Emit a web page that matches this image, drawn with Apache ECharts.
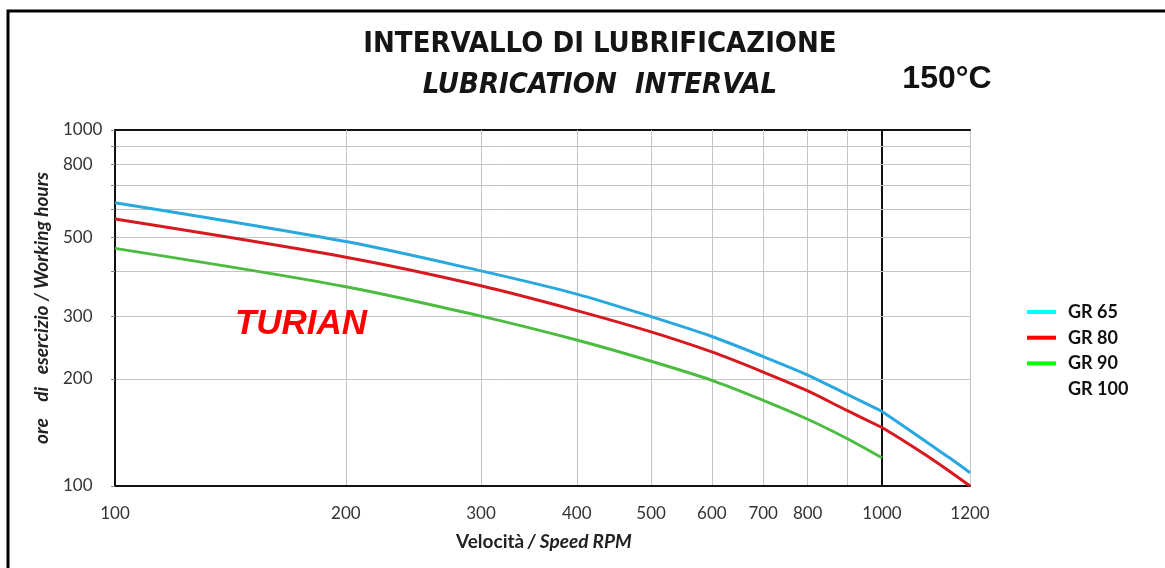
<!DOCTYPE html>
<html>
<head>
<meta charset="utf-8">
<script src="https://cdn.jsdelivr.net/npm/echarts@6/dist/echarts.min.js"></script>
<style>
  html, body { margin: 0; padding: 0; background: #fff; }
  #chart { width: 1165px; height: 568px; }
</style>
</head>
<body>
<div id="chart"></div>
<script>
// speed (RPM) and working hours
const speeds = [100, 200, 300, 400, 500, 600, 700, 800, 900, 1000, 1050, 1100, 1150, 1200];
const gr65 = [625, 486, 402, 346, 299, 263, 231, 205, 181, 162, 146, 132, 120, 109];
const gr80 = [562, 439, 365, 311, 271, 238, 209, 185, 163, 146, 133, 121, 110, 100];
const gr90 = [465, 363, 300, 257, 224, 198, 174, 154, 136, 120];

const gridTicksX = [100, 200, 300, 400, 500, 600, 700, 800, 900, 1000];
const labelTicksX = [100, 200, 300, 400, 500, 600, 700, 800, 1000];
const gridTicksY = [100, 200, 300, 400, 500, 600, 700, 800, 900, 1000];
const labelTicksY = [100, 200, 300, 500, 800, 1000];

const seriesNames = ['GR 65', 'GR 80', 'GR 90', 'GR 100'];
const lineColors = ['#29a8df', '#d7191f', '#4cbc40'];
const legendColors = ['#00ffff', '#ff0000', '#00ff00', 'rgba(0,0,0,0)'];

const FONT = 'Lato, "Open Sans", sans-serif';
const TITLE_FONT = '"DejaVu Sans Condensed", "DejaVu Sans", sans-serif';
const gridColor = '#c4c4c4';
const axisColor = '#111';

const pairs = (vals, from, to) =>
  speeds
    .map((s, i) => [s, vals[i]])
    .filter((p) => p[1] != null && p[0] >= from && p[0] <= to);

const chart = echarts.init(document.getElementById('chart'), null, { renderer: 'canvas' });

const series = [];
[gr65, gr80, gr90].forEach((vals, i) => {
  const base = {
    name: seriesNames[i],
    type: 'line',
    smooth: 0.3,
    showSymbol: false,
    lineStyle: { color: lineColors[i], width: 3 },
    itemStyle: { color: lineColors[i] },
    z: 3,
  };
  series.push({ ...base, xAxisIndex: 0, yAxisIndex: 0, data: pairs(vals, 100, 1000) });
  const tail = pairs(vals, 1000, 1200);
  if (tail.length > 1) {
    series.push({ ...base, xAxisIndex: 1, yAxisIndex: 1, data: tail });
  }
});
series.push({ name: 'GR 100', type: 'line', xAxisIndex: 0, yAxisIndex: 0, data: [] });

const fmt = (v) => String(Math.round(v));

chart.setOption({
  animation: false,
  backgroundColor: '#fff',
  title: [
    {
      text: 'INTERVALLO DI LUBRIFICAZIONE',
      left: 595, top: 25, textAlign: 'center',
      textStyle: { fontFamily: TITLE_FONT, fontSize: 29, fontWeight: 'bold', color: '#151515' },
    },
    {
      text: 'LUBRICATION  INTERVAL',
      left: 595, top: 66, textAlign: 'center',
      textStyle: { fontFamily: TITLE_FONT, fontSize: 29, fontStyle: 'italic', fontWeight: 'bold', color: '#151515' },
    },
    {
      text: '150°C',
      left: 942, top: 58, textAlign: 'center',
      textStyle: { fontFamily: '"Liberation Sans", Arial, sans-serif', fontSize: 32, fontWeight: 'bold', color: '#111' },
    },
    {
      text: 'TURIAN',
      left: 296, top: 302, textAlign: 'center',
      textStyle: { fontFamily: '"Liberation Sans", Arial, sans-serif', fontSize: 35, fontWeight: 'bold', fontStyle: 'italic', color: '#ff0000' },
    },
  ],
  legend: {
    orient: 'vertical',
    left: 1022,
    top: 297,
    icon: 'rect',
    itemWidth: 29,
    itemHeight: 4,
    itemGap: 5.7,
    selectedMode: false,
    textStyle: { fontFamily: FONT, fontSize: 18, fontWeight: 'bold', color: '#111', lineHeight: 20, padding: [0, 0, 0, 7] },
    data: seriesNames.map((name, i) => ({
      name,
      itemStyle: { color: legendColors[i] },
      lineStyle: { color: legendColors[i] },
    })),
  },
  grid: [
    { left: 115, top: 130, width: 767, height: 356, show: true, borderColor: axisColor, borderWidth: 2, backgroundColor: 'transparent', outerBoundsMode: 'none' },
    { left: 882, top: 130, width: 88, height: 356, show: false, outerBoundsMode: 'none' },
  ],
  xAxis: [
    {
      gridIndex: 0, type: 'log', logBase: 10, min: 100, max: 1000,
      axisLine: { show: true, lineStyle: { color: axisColor, width: 2 } },
      axisTick: { show: false, customValues: gridTicksX },
      axisLabel: { customValues: labelTicksX, formatter: fmt, margin: 19, fontFamily: FONT, fontSize: 17, color: '#333' },
      splitLine: { show: true, showMinLine: false, showMaxLine: false, lineStyle: { color: gridColor, width: 1 } },
    },
    {
      gridIndex: 1, type: 'log', logBase: 10, min: 1000, max: 1200,
      axisLine: { show: true, lineStyle: { color: axisColor, width: 2 } },
      axisTick: { show: false, customValues: [1000, 1200] },
      axisLabel: { customValues: [1200], formatter: fmt, margin: 19, fontFamily: FONT, fontSize: 17, color: '#333' },
      splitLine: { show: true, showMinLine: false, showMaxLine: true, lineStyle: { color: gridColor, width: 1 } },
    },
    {
      gridIndex: 1, type: 'log', logBase: 10, min: 1000, max: 1200, position: 'top',
      axisLine: { show: true, lineStyle: { color: axisColor, width: 2 } },
      axisTick: { show: false },
      axisLabel: { show: false },
      splitLine: { show: false },
    },
  ],
  yAxis: [
    {
      gridIndex: 0, type: 'log', logBase: 10, min: 100, max: 1000,
      name: 'ore    di   esercizio / Working hours',
      nameLocation: 'middle',
      nameGap: 64,
      nameRotate: 90,
      nameTextStyle: { fontFamily: FONT, fontSize: 19, fontWeight: 'bold', fontStyle: 'italic', color: '#222' },
      axisLine: { show: true, lineStyle: { color: axisColor, width: 2 } },
      axisTick: { show: true, length: 4, customValues: gridTicksY, lineStyle: { color: '#888' } },
      axisLabel: { customValues: labelTicksY, formatter: fmt, margin: 52, align: 'left', fontFamily: FONT, fontSize: 17, color: '#333' },
      splitLine: { show: true, showMinLine: false, showMaxLine: false, lineStyle: { color: gridColor, width: 1 } },
    },
    {
      gridIndex: 1, type: 'log', logBase: 10, min: 100, max: 1000,
      axisLine: { show: false },
      axisTick: { show: false, customValues: gridTicksY },
      axisLabel: { show: false },
      splitLine: { show: true, showMinLine: false, showMaxLine: false, lineStyle: { color: gridColor, width: 1 } },
    },
  ],
  graphic: [
    {
      type: 'rect',
      shape: { x: 8, y: 11, width: 1200, height: 600 },
      style: { fill: 'none', stroke: '#000', lineWidth: 3 },
      silent: true,
    },
    {
      type: 'text',
      left: 456, top: 532,
      style: {
        text: '{a|Velocità} {b|/ Speed RPM}',
        rich: {
          a: { fontFamily: FONT, fontSize: 19, fontWeight: 'bold', fill: '#222' },
          b: { fontFamily: FONT, fontSize: 19, fontWeight: 'bold', fontStyle: 'italic', fill: '#222' },
        },
      },
    },
  ],
  series,
});
</script>
</body>
</html>
